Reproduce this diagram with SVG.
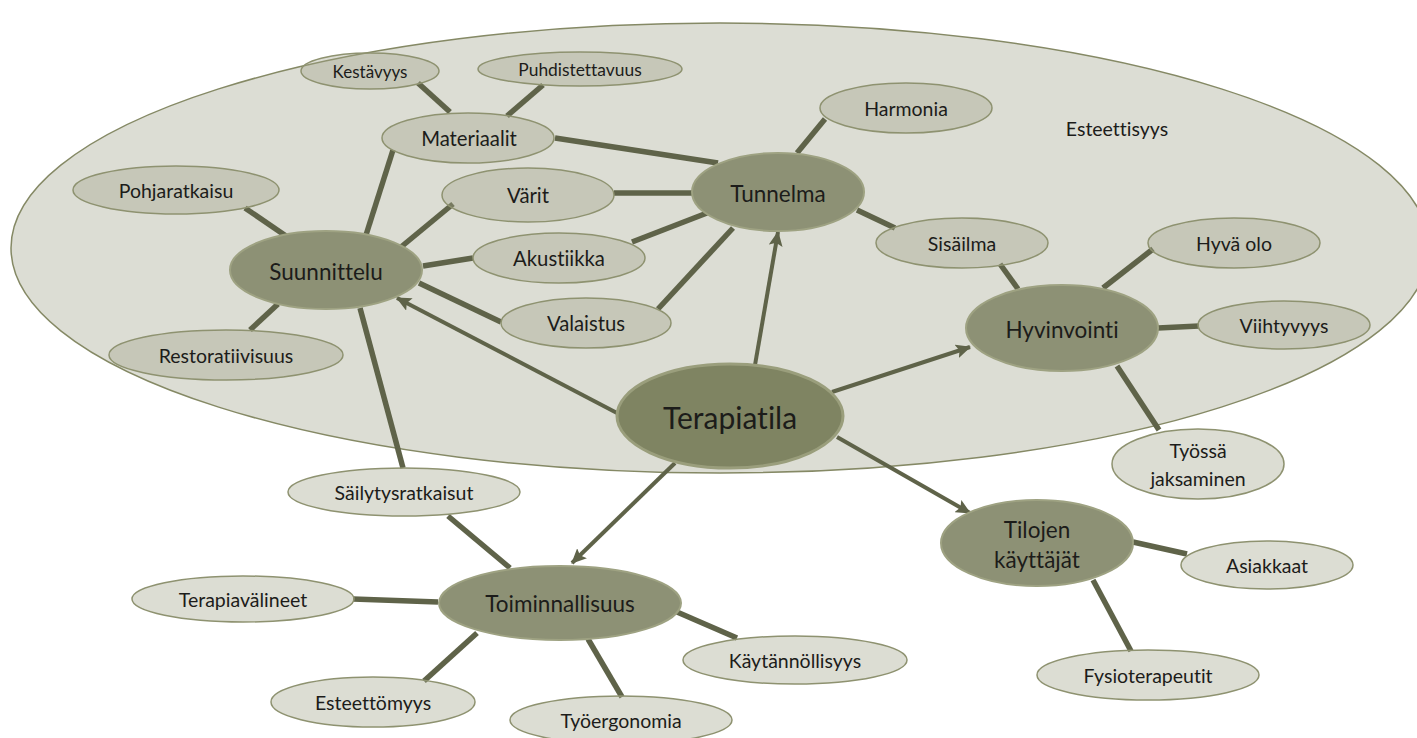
<svg xmlns="http://www.w3.org/2000/svg" width="1417" height="738" viewBox="0 0 1417 738">
<style>
  text { font-family: "Lato", "Liberation Sans", sans-serif; fill: #1c1c1a; text-anchor: middle; dominant-baseline: central; font-variant-ligatures: none; }
  .small ellipse { fill: rgb(160,163,135); fill-opacity: 0.37; stroke: #8e9270; stroke-width: 1.5; }
  .small text { font-size: 19.5px; }
  .mid ellipse { fill: #8d9175; stroke: #9ea282; stroke-width: 2; }
  .mid text { font-size: 22.5px; }
  .line { stroke: #5f6349; stroke-width: 5.5; fill: none; }
  .arrow { stroke: #5f6349; stroke-width: 4; fill: none; marker-end: url(#ah); }
</style>
<defs>
  <marker id="ah" markerUnits="userSpaceOnUse" markerWidth="16" markerHeight="14" refX="14" refY="7" orient="auto">
    <path d="M0,0 L15,7 L0,14 L3,7 Z" fill="#5f6349"/>
  </marker>
</defs>
<rect width="1417" height="738" fill="#ffffff"/>
<g id="esteettisyys-area">
  <ellipse cx="720" cy="248" rx="709" ry="225" fill="#dcddd4" stroke="#858965" stroke-width="1.5"/>
  <text x="1117" y="128" style="font-size:19.5px">Esteettisyys</text>
</g>
<g id="connectors">
  <line class="line" x1="418" y1="83" x2="450" y2="112"/>
  <line class="line" x1="543" y1="85" x2="507" y2="116"/>
  <line class="line" x1="555" y1="138" x2="718" y2="163"/>
  <line class="line" x1="393" y1="150" x2="366" y2="235"/>
  <line class="line" x1="453" y1="204" x2="401" y2="247"/>
  <line class="line" x1="614" y1="193" x2="692" y2="193"/>
  <line class="line" x1="473" y1="258" x2="423" y2="266"/>
  <line class="line" x1="632" y1="242" x2="707" y2="213"/>
  <line class="line" x1="501" y1="322" x2="419" y2="283"/>
  <line class="line" x1="658" y1="309" x2="733" y2="228"/>
  <line class="line" x1="245" y1="208" x2="286" y2="236"/>
  <line class="line" x1="250" y1="330" x2="278" y2="304"/>
  <line class="line" x1="360" y1="308" x2="403" y2="468"/>
  <line class="line" x1="825" y1="119" x2="797" y2="153"/>
  <line class="line" x1="857" y1="210" x2="895" y2="228"/>
  <line class="line" x1="1000" y1="264" x2="1018" y2="289"/>
  <line class="line" x1="1103" y1="288" x2="1153" y2="249"/>
  <line class="line" x1="1158" y1="328" x2="1199" y2="326"/>
  <line class="line" x1="1117" y1="366" x2="1159" y2="430"/>
  <line class="line" x1="1133" y1="542" x2="1187" y2="554"/>
  <line class="line" x1="1093" y1="580" x2="1131" y2="651"/>
  <line class="line" x1="448" y1="516" x2="510" y2="568"/>
  <line class="line" x1="353" y1="599" x2="438" y2="602"/>
  <line class="line" x1="424" y1="681" x2="477" y2="633"/>
  <line class="line" x1="622" y1="697" x2="588" y2="639"/>
  <line class="line" x1="737" y1="638" x2="677" y2="612"/>
  <line class="arrow" x1="755" y1="365" x2="778" y2="232"/>
  <line class="arrow" x1="832" y1="392" x2="970" y2="347"/>
  <line class="arrow" x1="617" y1="413" x2="397" y2="298"/>
  <line class="arrow" x1="675" y1="463" x2="572" y2="563"/>
  <line class="arrow" x1="837" y1="437" x2="970" y2="513"/>
</g>
<g id="kestavyys" class="small"><ellipse cx="370" cy="71" rx="69" ry="18"/><text x="370" y="71" style="font-size:17px">Kestävyys</text></g>
<g id="puhdistettavuus" class="small"><ellipse cx="580" cy="69" rx="102" ry="17"/><text x="580" y="69" style="font-size:17.4px">Puhdistettavuus</text></g>
<g id="materiaalit" class="small"><ellipse cx="468" cy="138" rx="86" ry="25"/><text x="469" y="138" style="font-size:20.3px">Materiaalit</text></g>
<g id="varit" class="small"><ellipse cx="528" cy="195" rx="86" ry="27"/><text x="528" y="195" style="font-size:20.3px">Värit</text></g>
<g id="akustiikka" class="small"><ellipse cx="559" cy="258" rx="86" ry="25"/><text x="559" y="258" style="font-size:20.3px">Akustiikka</text></g>
<g id="valaistus" class="small"><ellipse cx="586" cy="323" rx="85" ry="25"/><text x="586" y="323" style="font-size:20.3px">Valaistus</text></g>
<g id="pohjaratkaisu" class="small"><ellipse cx="176" cy="190" rx="103" ry="24"/><text x="176" y="190">Pohjaratkaisu</text></g>
<g id="restoratiivisuus" class="small"><ellipse cx="226" cy="355" rx="117" ry="25"/><text x="226" y="355">Restoratiivisuus</text></g>
<g id="harmonia" class="small"><ellipse cx="906" cy="108" rx="86" ry="25"/><text x="906" y="108">Harmonia</text></g>
<g id="sisailma" class="small"><ellipse cx="962" cy="243" rx="86" ry="25"/><text x="962" y="243">Sisäilma</text></g>
<g id="hyva-olo" class="small"><ellipse cx="1234" cy="243" rx="86" ry="25"/><text x="1234" y="243">Hyvä olo</text></g>
<g id="viihtyvyys" class="small"><ellipse cx="1284" cy="325" rx="86" ry="24"/><text x="1284" y="325">Viihtyvyys</text></g>
<g id="tyossa-jaksaminen" class="small"><ellipse cx="1198" cy="464" rx="86" ry="35"/><text x="1198" y="450">Työssä</text><text x="1198" y="478">jaksaminen</text></g>
<g id="asiakkaat" class="small"><ellipse cx="1267" cy="565" rx="86" ry="24"/><text x="1267" y="565">Asiakkaat</text></g>
<g id="fysioterapeutit" class="small"><ellipse cx="1148" cy="675" rx="111" ry="25"/><text x="1148" y="675">Fysioterapeutit</text></g>
<g id="sailytysratkaisut" class="small"><ellipse cx="404" cy="492" rx="116" ry="24"/><text x="404" y="492">Säilytysratkaisut</text></g>
<g id="terapiavalineet" class="small"><ellipse cx="243" cy="599" rx="111" ry="23"/><text x="243" y="599">Terapiavälineet</text></g>
<g id="esteettomyys" class="small"><ellipse cx="373" cy="702" rx="102" ry="25"/><text x="373" y="702">Esteettömyys</text></g>
<g id="tyoergonomia" class="small"><ellipse cx="621" cy="720" rx="111" ry="24"/><text x="621" y="720">Työergonomia</text></g>
<g id="kaytannollisyys" class="small"><ellipse cx="795" cy="660" rx="112" ry="24"/><text x="795" y="660">Käytännöllisyys</text></g>
<g id="suunnittelu" class="mid"><ellipse cx="326" cy="270" rx="96" ry="39"/><text x="326" y="271">Suunnittelu</text></g>
<g id="tunnelma" class="mid"><ellipse cx="778" cy="192" rx="86" ry="39"/><text x="778" y="193">Tunnelma</text></g>
<g id="hyvinvointi" class="mid"><ellipse cx="1062" cy="328" rx="96" ry="43"/><text x="1062" y="329">Hyvinvointi</text></g>
<g id="toiminnallisuus" class="mid"><ellipse cx="560" cy="603" rx="121" ry="37"/><text x="560" y="603">Toiminnallisuus</text></g>
<g id="tilojen-kayttajat" class="mid"><ellipse cx="1037" cy="543" rx="96" ry="43"/><text x="1037" y="529">Tilojen</text><text x="1037" y="559">käyttäjät</text></g>
<g id="terapiatila"><ellipse cx="730" cy="416" rx="113" ry="52" fill="#7f8462" stroke="#9a9e7c" stroke-width="3"/><text x="730" y="417" style="font-size:30px">Terapiatila</text></g>
</svg>
